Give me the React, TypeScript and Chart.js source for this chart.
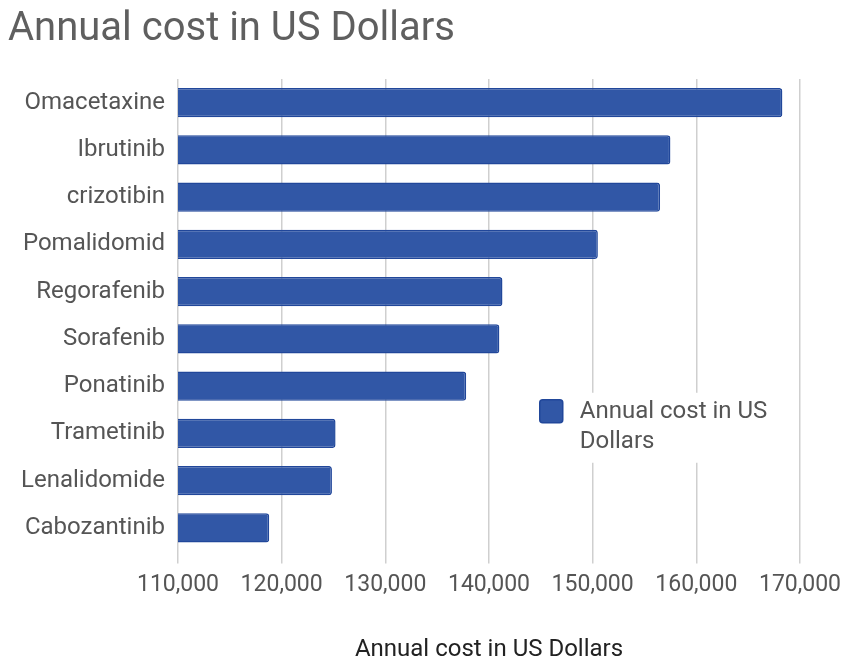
import React, { useEffect, useRef } from "react";
import { Chart, registerables } from "chart.js";

Chart.register(...registerables);

const chartTitle = "Annual cost in US Dollars";
const seriesLabel = "Annual cost in US Dollars";
const axisTitle = "Annual cost in US Dollars";
const categories = [
  "Omacetaxine",
  "Ibrutinib",
  "crizotibin",
  "Pomalidomid",
  "Regorafenib",
  "Sorafenib",
  "Ponatinib",
  "Trametinib",
  "Lenalidomide",
  "Cabozantinib",
];
const costs = [168300, 157500, 156500, 150500, 141300, 141000, 137800, 125200, 124850, 118800];
const xMin = 110000;
const xMax = 170000;
const xStep = 10000;

const FONT = "Roboto, 'Noto Sans', sans-serif";

const insideLegend = {
  id: "insideLegend",
  afterDatasetsDraw(chart: any) {
    const { ctx, chartArea } = chart;
    const ds = chart.data.datasets[0];
    const w = chartArea.right - chartArea.left;
    const h = chartArea.bottom - chartArea.top;
    const boxX = chartArea.left + 0.5816 * w;
    const boxY = chartArea.top + 0.679 * h;
    const boxS = 23;
    const textX = boxX + boxS + 17;
    const fontSize = 24;
    const lineH = 30;
    ctx.save();
    ctx.font = `${fontSize}px ${FONT}`;
    const maxW = chartArea.right - textX - 10;
    const words = String(ds.label).split(" ");
    const lines: string[] = [];
    let cur = "";
    for (const wd of words) {
      const test = cur ? cur + " " + wd : wd;
      if (ctx.measureText(test).width > maxW && cur) {
        lines.push(cur);
        cur = wd;
      } else cur = test;
    }
    if (cur) lines.push(cur);
    ctx.fillStyle = "#ffffff";
    ctx.fillRect(boxX - 12, boxY - 7, chartArea.right - 12 - boxX + 12, lines.length * lineH + 10);
    ctx.fillStyle = ds.backgroundColor;
    ctx.strokeStyle = ds.borderColor;
    ctx.lineWidth = 1.5;
    ctx.beginPath();
    (ctx as any).roundRect(boxX, boxY, boxS, boxS, 3);
    ctx.fill();
    ctx.stroke();
    ctx.fillStyle = "#555555";
    ctx.textAlign = "left";
    ctx.textBaseline = "middle";
    lines.forEach((ln, i) => {
      ctx.fillText(ln, textX, boxY + boxS / 2 + 1 + i * lineH);
    });
    ctx.restore();
  },
};

export default function App() {
  const ref = useRef<HTMLCanvasElement | null>(null);
  useEffect(() => {
    if (!ref.current) return;
    const chart = new Chart(ref.current, {
      type: "bar",
      data: {
        labels: categories,
        datasets: [
          {
            label: seriesLabel,
            data: costs,
            backgroundColor: "#3157a6",
            borderColor: "#21479a",
            borderWidth: 1.5,
            borderRadius: 3,
            barPercentage: 0.62,
            categoryPercentage: 1,
          },
        ],
      },
      options: {
        indexAxis: "y",
        animation: false,
        responsive: true,
        maintainAspectRatio: false,
        layout: { padding: { left: 8, right: 42, top: 0, bottom: 0 } },
        plugins: {
          legend: { display: false },
          tooltip: { enabled: false },
          title: {
            display: true,
            text: chartTitle,
            align: "start",
            color: "#5f5f5f",
            font: { family: FONT, size: 40, weight: "normal" },
            padding: { top: 6, bottom: 25 },
          },
        },
        scales: {
          x: {
            type: "linear",
            min: xMin,
            max: xMax,
            ticks: {
              stepSize: xStep,
              color: "#555555",
              font: { family: FONT, size: 23 },
              padding: 8.5,
              maxRotation: 0,
            },
            grid: {
              color: "#cfcfcf",
              lineWidth: 1.5,
              drawTicks: true,
              tickLength: 12,
            },
            border: { display: false },
            title: {
              display: true,
              text: axisTitle,
              color: "#222222",
              font: { family: FONT, size: 24, lineHeight: 1 },
              padding: { top: 30, bottom: 0 },
            },
            afterFit: (scale: any) => {
              scale.paddingRight = 0;
              scale.paddingLeft = 0;
            },
          },
          y: {
            type: "category",
            offset: true,
            grid: { display: false, drawTicks: false },
            border: { display: false },
            ticks: {
              color: "#555555",
              font: { family: FONT, size: 24 },
              padding: 13,
            },
            afterFit: (scale: any) => {
              scale.width = 170;
            },
          },
        },
      },
      plugins: [insideLegend],
    });
    return () => chart.destroy();
  }, []);
  return (
    <div style={{ position: "fixed", left: 0, top: 0, width: 842, height: 662, background: "#fff" }}>
      <canvas ref={ref} />
    </div>
  );
}
